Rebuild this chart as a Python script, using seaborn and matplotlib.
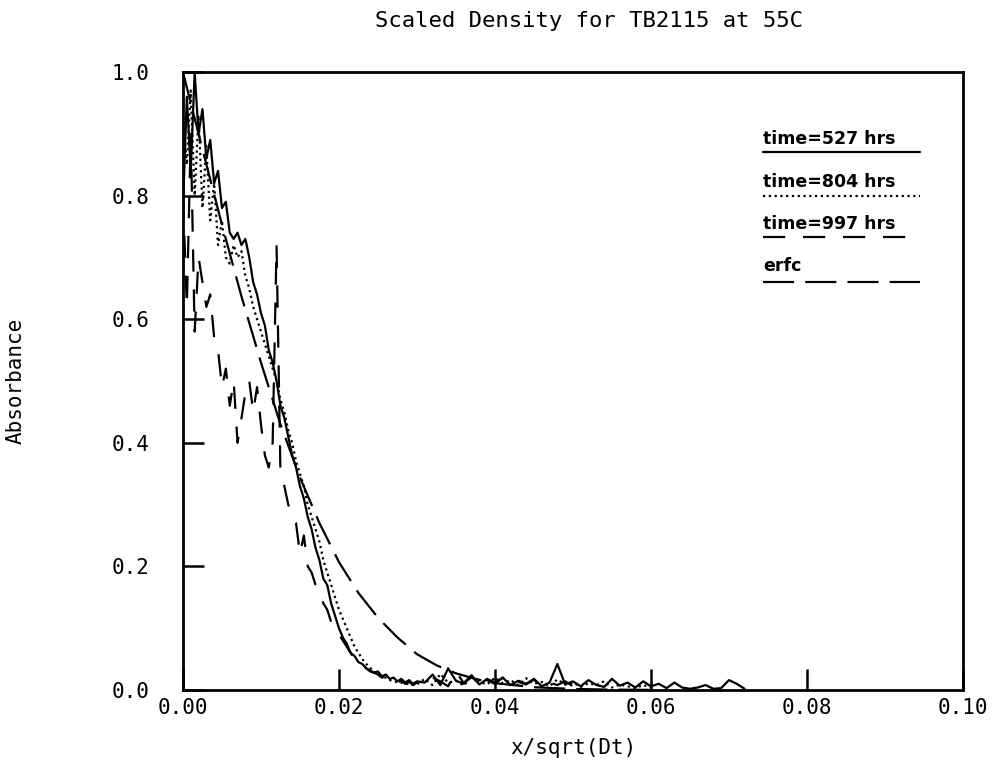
import numpy as np
import pandas as pd
import matplotlib
matplotlib.use("Agg")
import matplotlib.pyplot as plt
from matplotlib.lines import Line2D
import seaborn as sns

# ---------------- data ----------------
x_grid = np.round(np.concatenate([np.arange(0, 0.03001, 0.0005),
                                  np.arange(0.031, 0.07201, 0.001)]), 4)

y_527 = [0.78, 0.96, 0.84, 1.00, 0.90, 0.94, 0.86, 0.89, 0.82, 0.84,
         0.78, 0.79, 0.74, 0.73, 0.74, 0.72, 0.73, 0.70, 0.66, 0.64,
         0.61, 0.59, 0.55, 0.53, 0.50, 0.46, 0.44, 0.41, 0.38, 0.36,
         0.33, 0.31, 0.28, 0.26, 0.23, 0.21, 0.18, 0.17, 0.14, 0.12,
         0.10, 0.085, 0.075, 0.06, 0.055, 0.045, 0.042, 0.035, 0.032, 0.028,
         0.030, 0.022, 0.025, 0.018, 0.020, 0.014, 0.018, 0.012, 0.016, 0.010,
         0.014,
         0.012, 0.025, 0.008, 0.035, 0.015, 0.010, 0.022, 0.009, 0.018, 0.012,
         0.020, 0.008, 0.015, 0.010, 0.018, 0.006, 0.012, 0.042, 0.009, 0.014,
         0.006, 0.016, 0.008, 0.005, 0.018, 0.007, 0.012, 0.004, 0.014, 0.006,
         0.010, 0.003, 0.012, 0.004, 0.002, 0.004, 0.008, 0.002, 0.003, 0.016,
         0.010, 0.002]

y_804 = [0.92, 0.85, 0.97, 0.80, 0.93, 0.78, 0.88, 0.76, 0.82, 0.72,
         0.76, 0.70, 0.69, 0.72, 0.70, 0.71, 0.67, 0.65, 0.62, 0.60,
         0.58, 0.56, 0.54, 0.52, 0.50, 0.47, 0.45, 0.42, 0.40, 0.37,
         0.35, 0.33, 0.30, 0.28, 0.26, 0.24, 0.21, 0.19, 0.17, 0.15,
         0.13, 0.115, 0.10, 0.085, 0.07, 0.06, 0.05, 0.042, 0.036, 0.030,
         0.026, 0.022, 0.020, 0.016, 0.015, 0.012, 0.012, 0.010, 0.010, 0.008,
         0.009,
         0.018, 0.008, 0.026, 0.012, 0.015, 0.007, 0.022, 0.013, 0.009, 0.020,
         0.011, 0.016, 0.008, 0.019, 0.010, 0.013, 0.006, 0.017, 0.009, 0.012,
         0.005, 0.011, 0.008, 0.014, 0.004, 0.009, 0.006, 0.003, 0.008, 0.004]

y_997 = [0.80, 0.62, 0.90, 0.58, 0.70, 0.66, 0.62, 0.64, 0.57, 0.55,
         0.49, 0.52, 0.46, 0.50, 0.40, 0.44, 0.48, 0.50, 0.45, 0.49,
         0.43, 0.38, 0.36, 0.40, 0.72, 0.35, 0.33, 0.30, 0.28, 0.27,
         0.22, 0.25, 0.20, 0.19, 0.17, 0.16, 0.14, 0.13, 0.11, 0.10,
         0.09, 0.08, 0.07, 0.06, 0.05, 0.045, 0.040, 0.035, 0.030, 0.028,
         0.025, 0.020, 0.022, 0.016, 0.018, 0.012, 0.015, 0.010, 0.013, 0.008,
         0.012,
         0.010, 0.020, 0.014, 0.006, 0.030, 0.011, 0.024, 0.008, 0.016, 0.010,
         0.020, 0.007, 0.013, 0.009, 0.017, 0.005, 0.012, 0.008, 0.014, 0.006]

x_erfc = [0.0, 0.0025, 0.005, 0.0075, 0.010, 0.0125, 0.015, 0.0175, 0.020,
          0.0225, 0.025, 0.0275, 0.030, 0.0325, 0.035, 0.0375, 0.040, 0.045,
          0.050, 0.055, 0.060]
y_erfc = [1.0, 0.875, 0.753, 0.637, 0.53, 0.43, 0.344, 0.27, 0.207,
          0.157, 0.117, 0.085, 0.058, 0.040, 0.027, 0.018, 0.011, 0.0045,
          0.0017, 0.0006, 0.0002]

legend_labels = ["time=527 hrs", "time=804 hrs", "time=997 hrs", "erfc"]
x_ticks = [0.00, 0.02, 0.04, 0.06, 0.08, 0.10]
x_tick_labels = ["0.00", "0.02", "0.04", "0.06", "0.08", "0.10"]
y_ticks = [0.0, 0.2, 0.4, 0.6, 0.8, 1.0]
y_tick_labels = ["0.0", "0.2", "0.4", "0.6", "0.8", "1.0"]

title = "Scaled Density for TB2115 at 55C"
x_label = "x/sqrt(Dt)"
y_label = "Absorbance"

# ---------------- figure ----------------
sns.set_style("white")
plt.rcParams["font.family"] = ["DejaVu Sans Mono", "DejaVu Sans"]
plt.rcParams["text.color"] = "black"
plt.rcParams["axes.labelcolor"] = "black"

fig = plt.figure(figsize=(10.08, 7.67), dpi=100)
ax = fig.add_axes([0.1815, 0.1004, 0.7738, 0.8057])

LW = 1.6
styles = ["-", (0, (1, 1.6)), (0, (10, 8)), (0, (14, 5))]

df527 = pd.DataFrame({"x": x_grid[:len(y_527)], "y": y_527})
df804 = pd.DataFrame({"x": x_grid[:len(y_804)], "y": y_804})
df997 = pd.DataFrame({"x": x_grid[:len(y_997)], "y": y_997})
dferf = pd.DataFrame({"x": x_erfc, "y": y_erfc})

for d, ls in zip([df527, df804, df997, dferf], styles):
    sns.lineplot(data=d, x="x", y="y", ax=ax, color="black", lw=LW,
                 linestyle=ls, estimator=None, sort=False, legend=False)

ax.set_xlim(0, 0.1)
ax.set_ylim(0, 1.0)
ax.set_xticks(x_ticks)
ax.set_xticklabels(x_tick_labels)
ax.set_yticks(y_ticks)
ax.set_yticklabels(y_tick_labels)
ax.tick_params(axis="both", direction="in", length=15, width=1.8,
               labelsize=15, colors="black", bottom=True, left=True,
               top=False, right=False)
ax.tick_params(axis="y", pad=24)
ax.tick_params(axis="x", pad=6)
for s in ax.spines.values():
    s.set_linewidth(2.0)
    s.set_color("black")

ax.set_xlabel(x_label, fontsize=15, labelpad=14)
ax.set_ylabel(y_label, fontsize=15, labelpad=62)
fig.text(0.584, 0.972, title, ha="center", va="center", fontsize=16)

# legend: label text above a line sample
leg_text_y = [0.877, 0.807, 0.7395, 0.671]
leg_line_y = [0.8706, 0.799, 0.733, 0.660]
for lab, ty, ly, ls in zip(legend_labels, leg_text_y, leg_line_y, styles):
    ax.text(0.744, ty, lab, transform=ax.transAxes, ha="left", va="bottom",
            fontsize=12.5, fontweight="bold", family="DejaVu Sans")
    ax.add_line(Line2D([0.744, 0.945], [ly, ly], transform=ax.transAxes,
                       color="black", lw=LW, linestyle=ls))

fig.savefig("out.png", dpi=100)
